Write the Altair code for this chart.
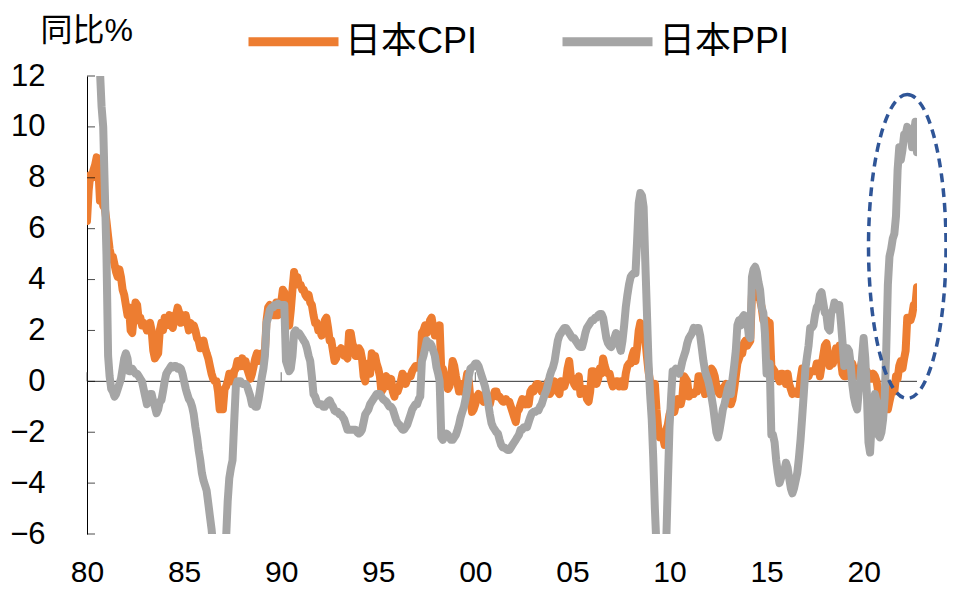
import altair as alt
import pandas as pd

# ---- Japan CPI YoY %, monthly, Jan 1980 .. Oct 2022 ----
cpi_1980s = [
    6.3, 7.5, 8.1, 8.0, 8.3, 8.5, 8.8, 8.4, 7.1, 7.4, 6.9, 6.8,
    6.3, 5.7, 5.2, 4.9, 4.9, 4.6, 4.3, 4.1, 4.4, 4.1, 3.6, 3.4,
    3.0, 2.6, 2.9, 2.0, 1.9, 2.6, 3.1, 3.0, 2.4, 2.5, 2.2, 2.3,
    2.2, 2.0, 2.1, 2.3, 2.0, 1.2, 0.9, 1.0, 1.1, 2.0, 2.3, 2.0,
    2.5, 2.2, 2.3, 2.6, 2.2, 2.1, 2.4, 2.6, 2.9, 2.7, 2.3, 2.6,
    2.4, 2.6, 2.3, 2.0, 2.3, 2.1, 2.2, 2.0, 1.7, 1.6, 1.3, 1.4,
    1.6, 1.3, 1.1, 0.9, 0.6, 0.3, 0.1, 0.0, 0.0, -0.4, -1.1, -0.5,
    -1.1, -0.3, -0.2, 0.0, 0.3, 0.2, 0.0, 0.4, 0.5, 0.8, 0.8, 0.6,
    0.9, 0.6, 0.8, 0.5, 0.3, 0.1, 0.3, 0.6, 0.9, 1.1, 0.8, 0.9,
    1.1, 1.0, 1.2, 2.4, 2.9, 3.0, 2.9, 2.6, 2.6, 3.1, 2.6, 3.0,
]
cpi_1990s = [
    3.1, 3.6, 3.5, 2.4, 2.3, 2.2, 2.8, 3.6, 4.3, 3.9, 4.1, 3.8,
    3.8, 3.6, 3.6, 3.4, 3.3, 3.4, 3.1, 3.0, 2.6, 2.3, 2.3, 2.0,
    2.0, 1.8, 2.0, 2.4, 2.5, 2.1, 1.6, 1.6, 1.2, 0.8, 0.9, 1.2,
    1.2, 1.3, 1.2, 1.0, 1.0, 0.9, 1.9, 1.9, 1.5, 1.3, 1.0, 1.0,
    1.3, 1.2, 0.9, 0.2, 0.0, 0.6, 0.7, 0.3, 1.1, 1.0, 1.0, 0.7,
    0.5, 0.2, -0.4, -0.3, 0.1, 0.2, 0.0, -0.2, 0.1, -0.4, -0.6, -0.3,
    -0.4, -0.2, 0.0, 0.3, 0.2, -0.1, 0.1, 0.2, 0.2, 0.4, 0.5, 0.6,
    0.6, 0.6, 0.5, 1.9, 2.0, 2.2, 1.9, 2.1, 2.4, 2.5, 2.1, 1.8,
    1.8, 1.9, 2.2, 0.4, 0.5, 0.1, -0.1, -0.3, -0.2, 0.2, 0.8, 0.6,
    0.2, -0.1, -0.4, -0.1, -0.4, -0.3, -0.1, 0.3, 0.0, -0.7, -1.2, -1.1,
]
cpi_2000s = [
    -0.9, -0.6, -0.5, -0.7, -0.7, -0.8, -0.5, -0.8, -0.8, -0.9, -0.6, -0.6,
    -0.4, -0.4, -0.6, -0.6, -0.7, -0.8, -0.8, -0.7, -0.8, -0.8, -1.0, -1.2,
    -1.4, -1.6, -1.2, -1.1, -0.9, -0.7, -0.8, -0.9, -0.7, -0.9, -0.4, -0.3,
    -0.4, -0.2, -0.1, -0.1, -0.2, -0.4, -0.2, -0.3, -0.2, 0.0, -0.5, -0.4,
    -0.3, 0.0, -0.1, -0.4, -0.5, 0.0, -0.1, -0.2, 0.0, 0.5, 0.8, 0.2,
    0.1, -0.1, -0.2, 0.0, 0.2, -0.5, -0.3, -0.3, -0.3, -0.7, -0.8, -0.4,
    0.4, 0.4, 0.2, -0.1, 0.1, 0.5, 0.3, 0.9, 0.6, 0.4, 0.3, 0.3,
    0.0, -0.2, -0.1, 0.0, 0.0, -0.2, 0.0, -0.2, -0.2, 0.3, 0.6, 0.7,
    0.7, 1.0, 1.2, 0.8, 1.3, 2.0, 2.3, 2.1, 2.1, 1.7, 1.0, 0.4,
    0.0, -0.1, -0.3, -0.1, -1.1, -1.8, -2.2, -2.2, -2.2, -2.5, -1.9, -1.7,
]
cpi_2010s = [
    -1.3, -1.1, -1.1, -1.2, -0.9, -0.7, -0.9, -0.9, -0.6, 0.2, 0.1, 0.0,
    -0.6, -0.5, -0.5, -0.5, -0.4, -0.4, 0.2, 0.2, 0.0, -0.2, -0.5, -0.2,
    0.1, 0.3, 0.5, 0.4, 0.2, -0.2, -0.4, -0.5, -0.3, -0.4, -0.2, -0.1,
    -0.3, -0.7, -0.9, -0.7, -0.3, 0.2, 0.7, 0.9, 1.1, 1.1, 1.5, 1.6,
    1.4, 1.5, 1.6, 3.4, 3.7, 3.6, 3.4, 3.3, 3.2, 2.9, 2.4, 2.4,
    2.4, 2.2, 2.3, 0.6, 0.5, 0.4, 0.2, 0.2, 0.0, 0.3, 0.3, 0.2,
    -0.1, 0.3, -0.1, -0.3, -0.5, -0.4, -0.4, -0.5, -0.5, 0.1, 0.5, 0.3,
    0.4, 0.3, 0.2, 0.4, 0.4, 0.4, 0.4, 0.7, 0.7, 0.2, 0.6, 1.0,
    1.4, 1.5, 1.1, 0.6, 0.7, 0.7, 0.9, 1.3, 1.2, 1.4, 0.8, 0.3,
    0.2, 0.2, 0.5, 0.9, 0.7, 0.7, 0.5, 0.3, 0.2, 0.2, 0.5, 0.8,
]
cpi_2020s = [
    0.7, 0.4, 0.4, 0.1, 0.1, 0.1, 0.3, 0.2, 0.0, -0.4, -0.9, -1.2,
    -0.6, -0.4, -0.2, -1.1, -0.8, -0.5, -0.3, -0.4, 0.2, 0.1, 0.6, 0.8,
    0.5, 0.9, 1.2, 2.5, 2.5, 2.4, 2.6, 3.0, 3.0, 3.7,
]

# ---- Japan PPI YoY %, monthly, Jan 1980 .. Oct 2022 ----
ppi_1980s = [
    17.5, 19.0, 20.5, 22.5, 23.0, 21.5, 18.5, 14.0, 12.2, 10.8, 10.0, 7.5,
    5.0, 1.0, 0.2, -0.3, -0.4, -0.6, -0.5, -0.3, -0.1, 0.1, 0.5, 0.9,
    1.1, 0.9, 0.4, 0.4, 0.5, 0.4, 0.3, 0.3, 0.2, 0.1, 0.0, -0.3,
    -0.6, -0.9, -0.7, -0.5, -0.5, -0.8, -1.0, -1.25, -1.1, -0.8, -0.75, -0.4,
    0.0, 0.3, 0.4, 0.5, 0.6, 0.55, 0.6, 0.6, 0.5, 0.55, 0.5, 0.3,
    0.0, -0.3, -0.5, -0.7, -0.8, -1.0, -1.3, -1.8, -2.2, -2.7, -3.1, -3.6,
    -3.9, -4.1, -4.3, -4.8, -5.3, -5.8, -6.5, -7.2, -7.6, -8.0, -7.8, -7.5,
    -7.2, -6.8, -6.2, -4.7, -3.8, -3.4, -3.1, -1.6, -0.2, 0.0, 0.0, 0.0,
    -0.1, -0.1, -0.1, -0.2, -0.4, -0.6, -0.9, -0.9, -1.0, -1.0, -0.7, -0.3,
    0.15, 0.5, 1.0, 2.3, 2.5, 2.8, 2.9, 2.9, 3.0, 3.0, 3.05, 3.0,
]
ppi_1990s = [
    3.0, 3.0, 3.0, 0.8, 0.6, 0.4, 0.5, 1.0, 1.9, 2.0, 1.9, 1.9,
    1.8, 1.7, 1.6, 1.5, 1.3, 1.0, 0.8, 0.2, -0.5, -0.6, -0.8, -0.9,
    -0.9, -0.9, -1.0, -1.0, -0.9, -0.8, -0.75, -0.9, -1.0, -1.15, -1.2, -1.2,
    -1.3, -1.3, -1.4, -1.5, -1.7, -1.9, -1.9, -1.9, -1.9, -1.9, -1.9, -2.0,
    -2.05, -2.0, -1.9, -1.6, -1.3, -1.2, -1.1, -0.9, -0.8, -0.7, -0.6, -0.5,
    -0.5, -0.5, -0.6, -0.7, -0.75, -0.8, -0.9, -1.0, -1.0, -1.1, -1.3, -1.5,
    -1.65, -1.7, -1.8, -1.9, -1.9, -1.8, -1.7, -1.5, -1.3, -1.1, -1.0, -0.9,
    -0.9, -0.7, -0.6, 0.8, 1.0, 1.3, 1.6, 1.5, 1.5, 1.4, 1.2, 1.0,
    0.55, 0.3, 0.0, -2.2, -2.3, -2.1, -2.05, -2.1, -2.2, -2.3, -2.3, -2.2,
    -2.1, -1.9, -1.7, -1.4, -1.2, -1.0, -0.7, -0.3, 0.2, 0.5, 0.55, 0.6,
]
ppi_2000s = [
    0.7, 0.7, 0.6, 0.4, 0.2, 0.0, -0.2, -0.5, -0.9, -1.3, -1.65, -1.8,
    -1.9, -2.0, -2.05, -2.3, -2.5, -2.6, -2.6, -2.65, -2.7, -2.7, -2.6, -2.5,
    -2.4, -2.3, -2.2, -2.1, -1.9, -1.9, -1.8, -1.8, -1.8, -1.6, -1.4, -1.25,
    -1.2, -1.2, -1.15, -1.15, -1.0, -0.9, -0.7, -0.5, -0.35, -0.1, 0.2, 0.4,
    0.55, 0.8, 1.2, 1.6, 1.8, 1.9, 2.0, 2.1, 2.1, 2.0, 1.9, 1.8,
    1.7, 1.7, 1.6, 1.5, 1.4, 1.35, 1.35, 1.6, 1.9, 2.1, 2.2, 2.3,
    2.4, 2.4, 2.5, 2.5, 2.6, 2.65, 2.65, 2.5, 2.1, 1.7, 1.5, 1.4,
    1.35, 1.5, 1.7, 1.9, 1.7, 1.4, 1.2, 1.6, 2.2, 2.9, 3.4, 3.8,
    4.1, 4.2, 4.25, 4.25, 5.5, 7.0, 7.4, 7.3, 6.85, 4.8, 2.8, 0.8,
    -0.5, -1.5, -3.0, -5.0, -6.5, -7.5, -8.5, -8.5, -8.0, -7.0, -6.3, -4.0,
]
ppi_2010s = [
    -1.8, -0.6, 0.4, 0.4, 0.5, 0.4, 0.3, 0.5, 0.8, 1.0, 1.2, 1.5,
    1.7, 1.8, 1.9, 2.1, 2.0, 2.1, 2.1, 1.8, 1.3, 0.8, 0.4, 0.2,
    0.0, -0.3, -0.6, -1.0, -1.5, -2.0, -2.2, -1.9, -1.5, -1.1, -0.9, -0.6,
    -0.3, -0.1, -0.5, 0.1, 0.6, 1.2, 2.2, 2.4, 2.2, 2.5, 2.6, 2.5,
    2.4, 1.8, 1.7, 4.1, 4.4, 4.5, 4.3, 3.9, 3.6, 2.9, 2.7, 1.9,
    0.3, 0.5, 0.7, -2.1, -2.1, -2.4, -3.1, -3.6, -4.0, -3.8, -3.6, -3.5,
    -3.2, -3.4, -3.8, -4.2, -4.4, -4.2, -3.9, -3.6, -3.0, -2.3, -1.4, -0.5,
    0.5, 1.0, 1.4, 2.1, 2.1, 2.2, 2.6, 2.9, 3.0, 3.4, 3.5, 3.1,
    2.7, 2.6, 2.1, 2.0, 2.7, 2.8, 3.1, 3.0, 3.0, 3.0, 2.3, 1.5,
    0.6, 0.8, 1.3, 1.2, 0.7, -0.1, -0.6, -0.9, -1.1, -0.4, 0.1, 0.9,
]
ppi_2020s = [
    1.7, 0.9, -0.4, -2.4, -2.8, -1.6, -0.9, -0.5, -0.8, -2.1, -2.2, -2.0,
    -1.5, -0.6, 1.2, 3.8, 4.9, 5.2, 5.6, 5.8, 6.5, 8.3, 9.2, 8.7,
    9.1, 9.7, 9.7, 10.0, 9.8, 9.7, 9.2, 9.7, 10.2, 9.0,
]

series_names = ["日本CPI", "日本PPI"]
series_colors = ["#ED7D31", "#A5A5A5"]
y_ticks = [-6, -4, -2, 0, 2, 4, 6, 8, 10, 12]
x_label_years = [1980, 1985, 1990, 1995, 2000, 2005, 2010, 2015, 2020]
x_tick_years = [1980, 1990, 2000, 2010, 2020]
# annotation: dashed ellipse around the 2021-22 surge
ellipse_center = ("2022-04-01", 5.3)

cpi = cpi_1980s + cpi_1990s + cpi_2000s + cpi_2010s + cpi_2020s
ppi = ppi_1980s + ppi_1990s + ppi_2000s + ppi_2010s + ppi_2020s
dates = pd.date_range("1980-01-01", periods=len(cpi), freq="MS")

df = pd.concat([
    pd.DataFrame({"date": dates, "value": cpi, "series": series_names[0]}),
    pd.DataFrame({"date": dates, "value": ppi, "series": series_names[1]}),
])
df["date"] = df["date"].dt.strftime("%Y-%m-%dT00:00:00")

FONT = "Liberation Sans, Arial, Noto Sans CJK SC"

xscale = alt.Scale(domain=[alt.DateTime(year=1980, month=1, date=1),
                           alt.DateTime(year=2022, month=10, date=1)], nice=False)
yscale = alt.Scale(domain=[-6, 12], nice=False, zero=False)

x_enc = alt.X(
    "date:T", scale=xscale, title=None,
    axis=alt.Axis(values=[alt.DateTime(year=y, month=1, date=1) for y in x_label_years],
                  format="%y", domain=False, ticks=False, tickSize=0, grid=False,
                  labelFontSize=30, labelFont=FONT, labelColor="black",
                  labelPadding=23, labelFlush=False),
)
y_enc = alt.Y(
    "value:Q", scale=yscale,
    axis=alt.Axis(values=y_ticks, domain=True, domainColor="black", domainWidth=1,
                  ticks=False, tickSize=0, grid=False,
                  labelFontSize=31, labelFont=FONT, labelColor="black", labelPadding=42,
                  title="同比%", titleAngle=0, titleX=-47, titleY=-36,
                  titleAlign="left", titleBaseline="alphabetic",
                  titleFontSize=32, titleFontWeight="normal", titleFont=FONT,
                  titleColor="black"),
)

zero = alt.Chart(pd.DataFrame({"v": [0]})).mark_rule(color="#333333", strokeWidth=1).encode(
    y=alt.Y("v:Q", scale=yscale)
)

ytick_df = pd.DataFrame({"date": "1980-01-01T00:00:00", "v": y_ticks})
yticks = alt.Chart(ytick_df).mark_tick(orient="horizontal", size=8, thickness=1,
                                       color="black", xOffset=4).encode(
    x=alt.X("date:T", scale=xscale), y=alt.Y("v:Q", scale=yscale)
)

xtick_df = pd.DataFrame({"date": [f"{y}-01-01T00:00:00" for y in x_tick_years], "v": 0})
xticks = alt.Chart(xtick_df).mark_tick(orient="vertical", size=9, thickness=1,
                                       color="#333333", yOffset=-4.5).encode(
    x=alt.X("date:T", scale=xscale), y=alt.Y("v:Q", scale=yscale)
)

lines = alt.Chart(df).mark_line(strokeWidth=8, strokeJoin="round", strokeCap="round",
                                clip=True).encode(
    x=x_enc, y=y_enc,
    color=alt.Color("series:N",
                    scale=alt.Scale(domain=series_names, range=series_colors),
                    legend=alt.Legend(orient="none", legendX=157, legendY=-84,
                                      direction="horizontal", title=None,
                                      symbolType="stroke", symbolSize=8100,
                                      symbolStrokeWidth=9, labelFontSize=36,
                                      labelFont=FONT, labelColor="black",
                                      labelLimit=400, labelOffset=2,
                                      columnPadding=66, padding=0)),
    order=alt.Order("date:T"),
)

ell_df = pd.DataFrame({"date": [ellipse_center[0] + "T00:00:00"], "v": [ellipse_center[1]]})
ellipse = alt.Chart(ell_df).mark_point(
    shape="M0,-1 A0.255,1 0 1,1 0,1 A0.255,1 0 1,1 0,-1 Z",
    size=304 * 304, filled=False, stroke="#2F5597", strokeWidth=3.5,
    strokeDash=[9, 6], opacity=1,
).encode(x=alt.X("date:T", scale=xscale), y=alt.Y("v:Q", scale=yscale))

chart = alt.layer(zero, xticks, lines, yticks, ellipse).properties(
    width=830, height=458,
    autosize=alt.AutoSizeParams(type="none"),
    padding={"left": 79, "top": 68, "right": 30, "bottom": 54},
).configure_view(stroke=None)

chart.save("out.html", embed_options={"renderer": "svg", "actions": False})
